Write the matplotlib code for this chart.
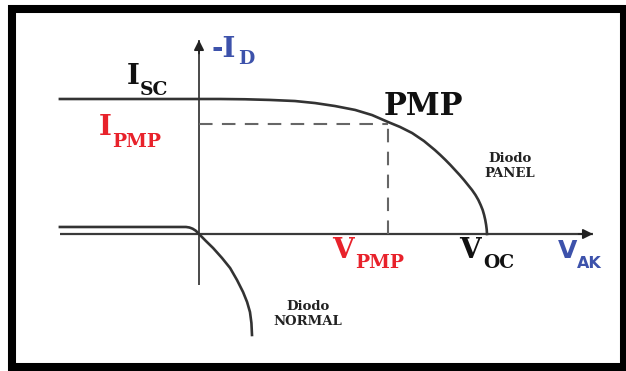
import matplotlib
matplotlib.use('Agg')
import matplotlib.pyplot as plt
from matplotlib.patches import Rectangle

# normalised units: Voc = 1, Isc = 1
panel_v = [-0.483, 0.0, 0.073, 0.160, 0.247, 0.333, 0.403, 0.472, 0.542, 0.601,
           0.656, 0.698, 0.740, 0.781, 0.819, 0.838, 0.856, 0.873, 0.889, 0.905,
           0.920, 0.934, 0.948, 0.960, 0.970, 0.978, 0.985, 0.990, 0.994, 0.997,
           0.999, 1.0]
panel_i = [1.0, 1.0, 1.0, 0.998, 0.993, 0.985, 0.970, 0.948, 0.919, 0.881,
           0.830, 0.793, 0.748, 0.689, 0.622, 0.585, 0.548, 0.511, 0.474, 0.437,
           0.400, 0.363, 0.326, 0.289, 0.252, 0.215, 0.178, 0.141, 0.104, 0.067,
           0.033, 0.0]
normal_v = [-0.483, -0.045, -0.033, -0.022, -0.011, 0.0, 0.024, 0.049, 0.080,
            0.108, 0.132, 0.153, 0.167, 0.177, 0.182, 0.184]
normal_i = [0.052, 0.052, 0.048, 0.039, 0.024, 0.0, -0.052, -0.104, -0.178,
            -0.252, -0.341, -0.430, -0.504, -0.578, -0.659, -0.748]
v_pmp, i_pmp = 0.656, 0.815
v_oc, i_sc = 1.0, 1.0
v_axis = [-0.483, 1.368]
i_axis = [-0.378, 1.437]

RED = '#e8222b'
BLUE = '#3d52ab'
INK = '#111111'
SERIF = 'DejaVu Serif'

W, H = 626, 371
fig = plt.figure(figsize=(W / 100, H / 100), dpi=100)
ax = fig.add_axes([0, 0, 1, 1])
ax.set_xlim(-199 / 288, (W - 199) / 288)
ax.set_ylim((234 - H) / 135, 234 / 135)
ax.axis('off')


def px(x, y):
    # picture pixel -> data units (only used to place labels)
    return (x - 199) / 288, (234 - y) / 135


# frame
fig.patches.append(Rectangle((12 / W, 4 / H), 612 / W, 358 / H, transform=fig.transFigure,
                             fill=False, lw=5.8, ec='black'))

# axes with arrows
ax.plot(v_axis, [0, 0], color='#3a3a3a', lw=1.6, solid_capstyle='butt')
ax.annotate('', xy=(v_axis[1], 0), xytext=(v_axis[1] - 0.05, 0),
            arrowprops=dict(arrowstyle='-|>', color='#222222', lw=1.2,
                            mutation_scale=15, shrinkA=0, shrinkB=0))
ax.plot([0, 0], i_axis, color='#4a4a4a', lw=1.4, solid_capstyle='butt')
ax.annotate('', xy=(0, i_axis[1]), xytext=(0, i_axis[1] - 0.1),
            arrowprops=dict(arrowstyle='-|>', color='#222222', lw=1.2,
                            mutation_scale=15, shrinkA=0, shrinkB=0))

# curves
ax.plot(panel_v, panel_i, color='#333333', lw=1.9, solid_joinstyle='round')
ax.plot(normal_v, normal_i, color='#333333', lw=1.9, solid_joinstyle='round')

# maximum power point guides
ax.plot([0, v_pmp], [i_pmp, i_pmp], color='#666666', lw=1.5, dashes=(6.5, 4.5))
ax.plot([v_pmp, v_pmp], [0, i_pmp], color='#666666', lw=1.5, dashes=(6.5, 4.5))

big = dict(fontsize=20, fontweight='bold', family=SERIF, va='baseline', ha='left')
sub = dict(fontsize=13.5, fontweight='bold', family=SERIF, va='baseline', ha='left')

ax.text(*px(127, 84), 'I', color=INK, **big)
ax.text(*px(140, 95), 'SC', color=INK, **sub)
ax.text(*px(99, 135), 'I', color=RED, **big)
ax.text(*px(112, 147), 'PMP', color=RED, **sub)
ax.text(*px(212, 57), '-I', color=BLUE, **big)
ax.text(*px(238, 64), 'D', color=BLUE, **sub)
ax.text(*px(332, 258), 'V', color=RED, **big)
ax.text(*px(355, 268), 'PMP', color=RED, **sub)
ax.text(*px(459, 258), 'V', color=INK, **big)
ax.text(*px(483, 268), 'OC', color=INK, **sub)
ax.text(*px(558, 258), 'V', color=BLUE, fontsize=18, fontweight='bold',
        family='DejaVu Sans', va='baseline', ha='left')
ax.text(*px(577, 268), 'AK', color=BLUE, fontsize=11.5, fontweight='bold',
        family='DejaVu Sans', va='baseline', ha='left')
ax.text(*px(384, 115), 'PMP', color=INK, fontsize=22, fontweight='bold',
        family=SERIF, va='baseline', ha='left')

ax.text(*px(510, 166), 'Diodo\nPANEL', color='#222222', fontsize=9.5,
        fontweight='bold', family=SERIF, ha='center', va='center', linespacing=1.25)
ax.text(*px(308, 314), 'Diodo\nNORMAL', color='#222222', fontsize=9.5,
        fontweight='bold', family=SERIF, ha='center', va='center', linespacing=1.25)

fig.savefig('out.png', dpi=100)
